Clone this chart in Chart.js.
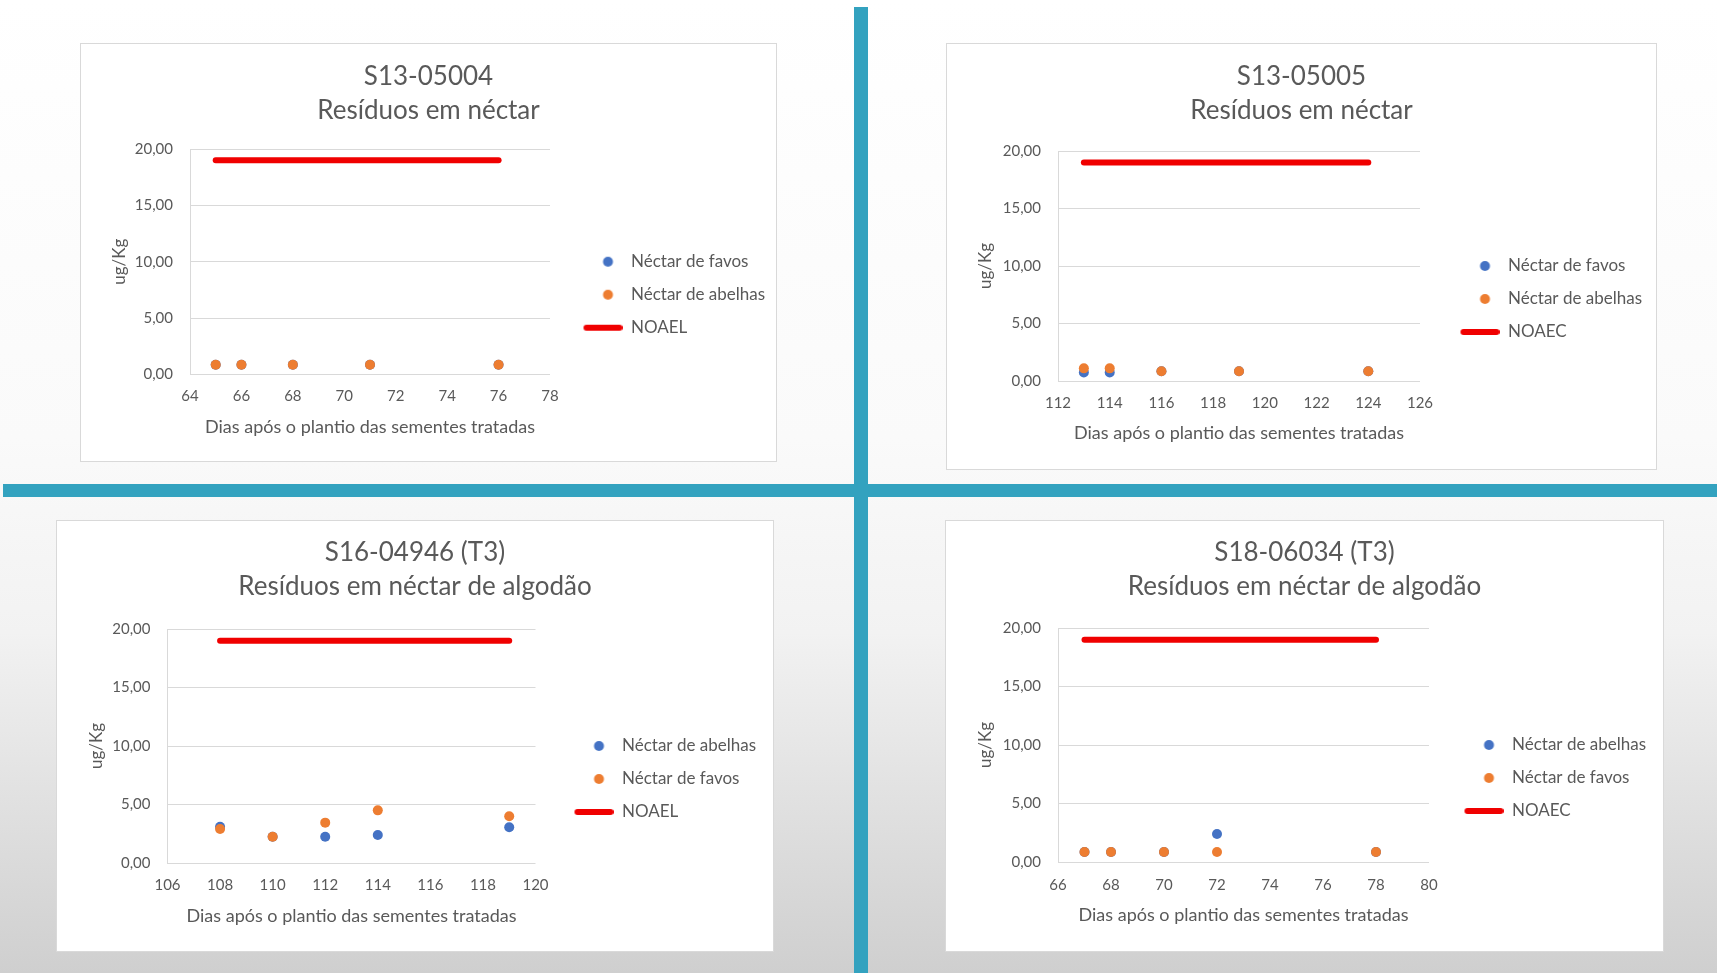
<!DOCTYPE html>
<html>
<head>
<meta charset="utf-8">
<script src="https://cdn.jsdelivr.net/npm/chart.js@4.4.1/dist/chart.umd.min.js"></script>
<style>
html, body { margin: 0; padding: 0; width: 1717px; height: 973px; overflow: hidden; }
body {
    position: relative;
    background: linear-gradient(to bottom, #ffffff 0%, #fafafa 45%, #f2f2f2 65%, #cfcfcf 100%);
    font-family: Lato, sans-serif;
}
.bar { position: absolute; background: #33a2bf; }
.panel { position: absolute; background: #ffffff; box-shadow: 0 0 0 1px #d9d9d9; }
.panel canvas { position: absolute; left: 0; top: 0; }
</style>
</head>
<body>
<div class="bar" style="left:854px;top:7px;width:14px;height:966px"></div>
<div class="bar" style="left:3px;top:484px;width:1714px;height:13px"></div>
<div class="panel" id="p1"><canvas></canvas></div>
<div class="panel" id="p2"><canvas></canvas></div>
<div class="panel" id="p3"><canvas></canvas></div>
<div class="panel" id="p4"><canvas></canvas></div>

<script>
// shared
const yTicks = [0, 5, 10, 15, 20];
const xLabel = 'Dias após o plantio das sementes tratadas';
const yLabel = 'ug/Kg';

// S13-05004
const titles1 = ['S13-05004', 'Resíduos em néctar'];
const names1 = ['Néctar de favos', 'Néctar de abelhas', 'NOAEL'];
const xTicks1 = [64, 66, 68, 70, 72, 74, 76, 78];
const days1 = [65, 66, 68, 71, 76];
const blue1 = [0.85, 0.85, 0.85, 0.85, 0.85];
const orange1 = [0.85, 0.85, 0.85, 0.85, 0.85];
const limitDays1 = [65, 76];
const limit1 = [19, 19];

// S13-05005
const titles2 = ['S13-05005', 'Resíduos em néctar'];
const names2 = ['Néctar de favos', 'Néctar de abelhas', 'NOAEC'];
const xTicks2 = [112, 114, 116, 118, 120, 122, 124, 126];
const days2 = [113, 114, 116, 119, 124];
const blue2 = [0.75, 0.75, 0.85, 0.85, 0.85];
const orange2 = [1.1, 1.1, 0.85, 0.85, 0.85];
const limitDays2 = [113, 124];
const limit2 = [19, 19];

// S16-04946 (T3)
const titles3 = ['S16-04946 (T3)', 'Resíduos em néctar de algodão'];
const names3 = ['Néctar de abelhas', 'Néctar de favos', 'NOAEL'];
const xTicks3 = [106, 108, 110, 112, 114, 116, 118, 120];
const days3 = [108, 110, 112, 114, 119];
const blue3 = [3.1, 2.25, 2.25, 2.4, 3.05];
const orange3 = [2.9, 2.25, 3.45, 4.5, 4.0];
const limitDays3 = [108, 119];
const limit3 = [19, 19];

// S18-06034 (T3)
const titles4 = ['S18-06034 (T3)', 'Resíduos em néctar de algodão'];
const names4 = ['Néctar de abelhas', 'Néctar de favos', 'NOAEC'];
const xTicks4 = [66, 68, 70, 72, 74, 76, 78, 80];
const days4 = [67, 68, 70, 72, 78];
const blue4 = [0.85, 0.85, 0.85, 2.4, 0.85];
const orange4 = [0.85, 0.85, 0.85, 0.85, 0.85];
const limitDays4 = [67, 78];
const limit4 = [19, 19];

// where each white box and its plot area sit (px, relative to the box)
const layouts = [
    {box: [81, 44, 695, 417], area: [109, 105, 469, 330.4], yTitleX: 39, xTickY: 352, xTitleY: 383, titleY: 33, dotDx: 58},
    {box: [947, 44, 709, 425], area: [111, 107, 473, 337], yTitleX: 38.5, xTickY: 359, xTitleY: 389.6, titleY: 33, dotDx: 65},
    {box: [57, 521, 716, 430], area: [110.5, 108, 478.5, 342], yTitleX: 39.4, xTickY: 363.8, xTitleY: 395.5, titleY: 32, dotDx: 63.5},
    {box: [946, 521, 717, 430], area: [112, 107, 483, 341], yTitleX: 39.5, xTickY: 364, xTitleY: 394.5, titleY: 32, dotDx: 60}
];

const BLUE = '#4472c4';
const ORANGE = '#ed7d31';
const RED = '#f00000';
const TEXT = '#595959';
const GRID = '#d9d9d9';
const FS = 15, LH = 18;            // tick labels
const LEG_FS = 17, LEG_PAD = 16;   // legend
const AT_FS = 17, AT_LH = 20.4;    // y axis title
const XT_FS = 18, XT_LH = 21.6;    // x axis title
const T_FS = 26, T_LH = 34;        // chart title
const ICON_W = 40;

Chart.defaults.font.family = 'Lato, sans-serif';

function pts(xs, ys) {
    return xs.map((x, i) => ({x: x, y: ys[i]}));
}

function legendIcon(isLine, color) {
    const c = document.createElement('canvas');
    c.width = ICON_W;
    c.height = 12;
    const g = c.getContext('2d');
    if (isLine) {
        g.strokeStyle = color;
        g.lineWidth = 6;
        g.lineCap = 'round';
        g.beginPath();
        g.moveTo(4, 6);
        g.lineTo(ICON_W - 3, 6);
        g.stroke();
    } else {
        g.fillStyle = color;
        g.beginPath();
        g.arc(25.5, 6, 5, 0, Math.PI * 2);
        g.fill();
    }
    return c;
}

function legendLabels(chart) {
    const items = Chart.defaults.plugins.legend.labels.generateLabels(chart);
    items.forEach(it => {
        const ds = chart.data.datasets[it.datasetIndex];
        it.pointStyle = ds.showLine ? legendIcon(true, ds.borderColor) : legendIcon(false, ds.pointBackgroundColor);
    });
    return items;
}

// put the legend to the right of the plot, first row level with its middle
const legendBeside = {
    id: 'legendBeside',
    afterLayout(chart, args, opts) {
        const lg = chart.legend;
        const ca = chart.chartArea;
        const left = ca.right + opts.dotDx - 25.5 - LEG_PAD;
        const top = (ca.top + ca.bottom) / 2 - LEG_PAD - LEG_FS / 2;
        const w = lg.width, h = lg.height;
        lg.left = left; lg.right = left + w;
        lg.top = top; lg.bottom = top + h;
    }
};

function makeChart(n, titles, names, xTicks, days, blue, orange, limitDays, limit) {
    const lay = layouts[n - 1];
    const [bx, by, W, H] = lay.box;
    const [L, T, R, B] = lay.area;
    const panel = document.getElementById('p' + n);
    panel.style.left = bx + 'px';
    panel.style.top = by + 'px';
    panel.style.width = W + 'px';
    panel.style.height = H + 'px';
    const canvas = panel.querySelector('canvas');
    canvas.width = W;
    canvas.height = H;

    const padLeft = lay.yTitleX - AT_LH / 2;
    const padTop = lay.titleY - T_LH / 2;
    const xHeight = lay.xTitleY - B + XT_LH / 2;

    return new Chart(canvas, {
        type: 'scatter',
        data: {
            datasets: [{
                label: names[0],
                data: pts(days, blue),
                pointBackgroundColor: BLUE,
                backgroundColor: BLUE,
                pointBorderWidth: 0,
                pointRadius: 5,
                order: 1
            }, {
                label: names[1],
                data: pts(days, orange),
                pointBackgroundColor: ORANGE,
                backgroundColor: ORANGE,
                pointBorderWidth: 0,
                pointRadius: 5,
                order: 0
            }, {
                label: names[2],
                data: pts(limitDays, limit),
                showLine: true,
                borderColor: RED,
                borderWidth: 6,
                borderCapStyle: 'round',
                pointRadius: 0,
                order: 2
            }]
        },
        options: {
            responsive: false,
            animation: false,
            events: [],
            layout: {
                // same padding both sides so the title is centred on the box
                padding: {left: padLeft, top: padTop, right: padLeft, bottom: H - B - xHeight}
            },
            plugins: {
                title: {
                    display: true,
                    text: titles,
                    color: TEXT,
                    font: {size: T_FS, weight: 'normal', lineHeight: T_LH + 'px'},
                    padding: {top: 0, bottom: T - padTop - 2 * T_LH}
                },
                legend: {
                    position: 'chartArea',
                    align: 'start',
                    labels: {
                        usePointStyle: true,
                        pointStyleWidth: ICON_W,
                        padding: LEG_PAD,
                        color: TEXT,
                        font: {size: LEG_FS},
                        sort: (a, b) => a.datasetIndex - b.datasetIndex,
                        generateLabels: legendLabels
                    }
                },
                tooltip: {enabled: false},
                legendBeside: {dotDx: lay.dotDx}
            },
            scales: {
                x: {
                    type: 'linear',
                    min: xTicks[0],
                    max: xTicks[xTicks.length - 1],
                    ticks: {
                        stepSize: xTicks[1] - xTicks[0],
                        color: TEXT,
                        font: {size: FS},
                        padding: lay.xTickY - B - LH / 2,
                        maxRotation: 0
                    },
                    grid: {display: false, drawTicks: false},
                    border: {display: false},
                    title: {display: true, text: xLabel, color: TEXT, font: {size: XT_FS}, padding: 0},
                    afterFit: s => { s.height = xHeight; }
                },
                y: {
                    min: yTicks[0],
                    max: yTicks[yTicks.length - 1],
                    ticks: {
                        stepSize: yTicks[1] - yTicks[0],
                        color: TEXT,
                        font: {size: FS},
                        padding: 17,
                        callback: v => v.toFixed(2).replace('.', ',')
                    },
                    grid: {color: GRID, drawTicks: false},
                    border: {display: true, color: GRID},
                    title: {display: true, text: yLabel, color: TEXT, font: {size: AT_FS}, padding: 0},
                    afterFit: s => { s.width = L - padLeft; }
                },
                // empty right-hand strip that holds the room for the legend
                legendRoom: {
                    type: 'linear',
                    position: 'right',
                    ticks: {display: false},
                    grid: {display: false, drawTicks: false},
                    border: {display: false},
                    afterFit: s => { s.width = W - R - padLeft; }
                }
            }
        },
        plugins: [legendBeside]
    });
}

makeChart(1, titles1, names1, xTicks1, days1, blue1, orange1, limitDays1, limit1);
makeChart(2, titles2, names2, xTicks2, days2, blue2, orange2, limitDays2, limit2);
makeChart(3, titles3, names3, xTicks3, days3, blue3, orange3, limitDays3, limit3);
makeChart(4, titles4, names4, xTicks4, days4, blue4, orange4, limitDays4, limit4);
</script>
</body>
</html>
